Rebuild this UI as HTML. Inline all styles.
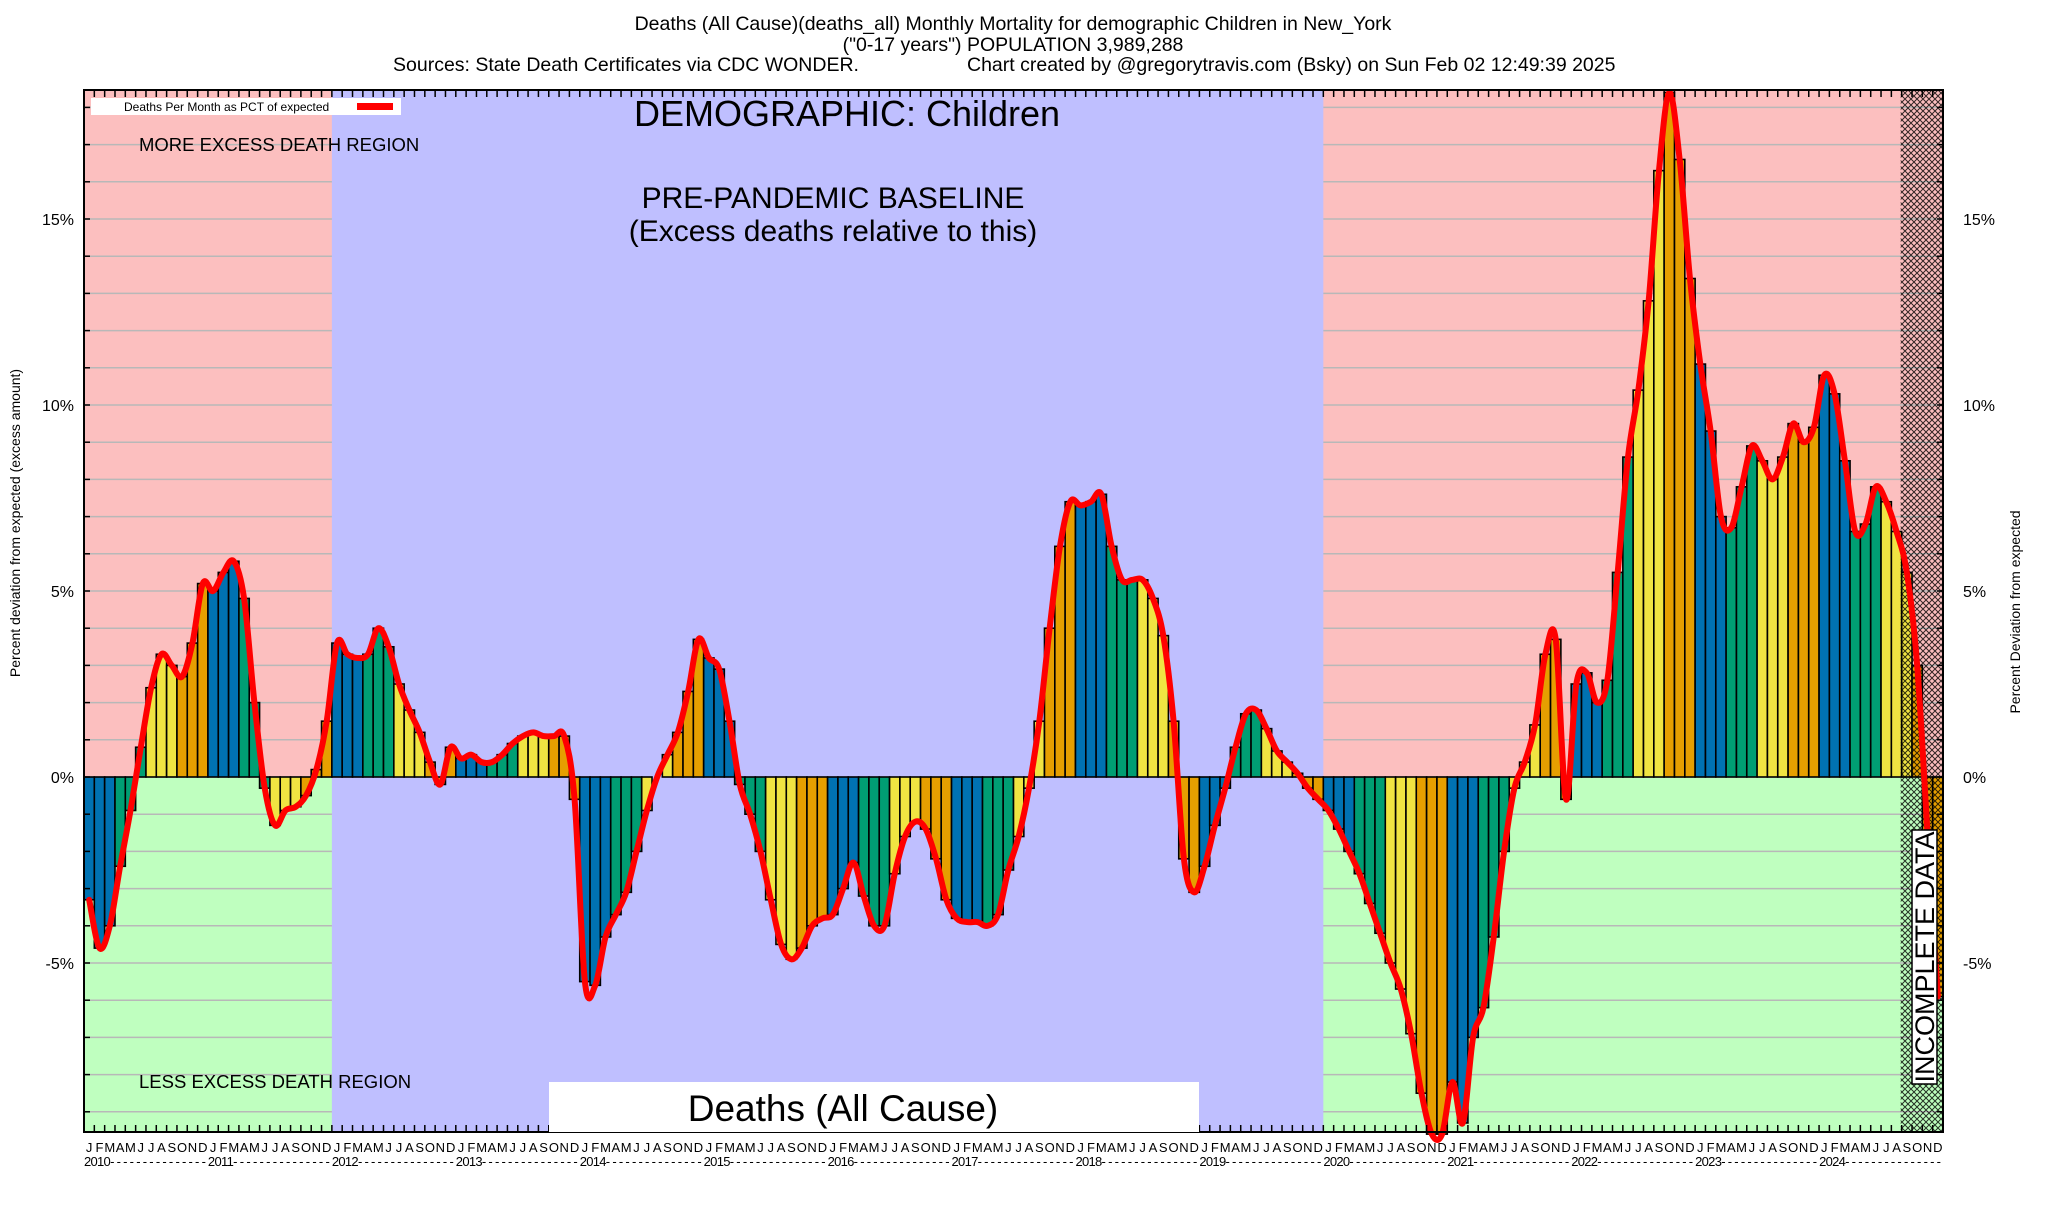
<!DOCTYPE html>
<html><head><meta charset="utf-8"><style>
body{margin:0;background:#fff;width:2048px;height:1200px;overflow:hidden;font-family:"Liberation Sans",sans-serif}
svg text{font-family:"Liberation Sans",sans-serif}
</style></head><body>
<svg id="chart" width="2048" height="1200" xmlns="http://www.w3.org/2000/svg">
<defs>
<pattern id="hatch" width="6" height="6" patternUnits="userSpaceOnUse">
<path d="M0,0 L6,6 M6,0 L0,6" stroke="#000" stroke-width="1" opacity="0.8"/>
</pattern>
</defs>
<g id="bg"></g><g id="grid"></g><g id="bars"></g><g id="hatchg"></g><g id="line"></g><g id="axes"></g><g id="labels"></g>
<text x="1013" y="30" font-size="19.5" text-anchor="middle">Deaths (All Cause)(deaths_all) Monthly Mortality for demographic Children in New_York</text>
<text x="1013" y="51" font-size="19.5" text-anchor="middle">("0-17 years") POPULATION 3,989,288</text>
<text x="393" y="71" font-size="19.5">Sources: State Death Certificates via CDC WONDER.</text>
<text x="967" y="71" font-size="19.5">Chart created by @gregorytravis.com (Bsky) on Sun Feb 02 12:49:39 2025</text>
</svg>
<script>
const months=["J","F","M","A","M","J","J","A","S","O","N","D"];
const years=[2010,2011,2012,2013,2014,2015,2016,2017,2018,2019,2020,2021,2022,2023,2024];
const tickLabels=["-5%","0%","5%","10%","15%"];
const tickValues=[-5,0,5,10,15];
const v2010=[-3.3,-4.6,-4.0,-2.4,-0.9,0.8,2.4,3.3,3.0,2.7,3.6,5.2];
const v2011=[5.0,5.5,5.8,4.8,2.0,-0.3,-1.3,-0.9,-0.8,-0.5,0.2,1.5];
const v2012=[3.6,3.3,3.2,3.3,4.0,3.5,2.5,1.8,1.2,0.4,-0.2,0.8];
const v2013=[0.5,0.6,0.4,0.4,0.6,0.9,1.1,1.2,1.1,1.1,1.1,-0.6];
const v2014=[-5.5,-5.6,-4.3,-3.7,-3.1,-2.0,-0.9,0.0,0.6,1.2,2.3,3.7];
const v2015=[3.2,2.9,1.5,-0.2,-1.0,-2.0,-3.3,-4.5,-4.9,-4.6,-4.0,-3.8];
const v2016=[-3.7,-3.0,-2.3,-3.2,-4.0,-4.0,-2.6,-1.6,-1.2,-1.4,-2.2,-3.3];
const v2017=[-3.8,-3.9,-3.9,-4.0,-3.7,-2.5,-1.6,-0.3,1.5,4.0,6.2,7.4];
const v2018=[7.3,7.4,7.6,6.2,5.3,5.3,5.3,4.8,3.8,1.5,-2.2,-3.1];
const v2019=[-2.4,-1.3,-0.3,0.8,1.7,1.8,1.3,0.7,0.4,0.1,-0.3,-0.6];
const v2020=[-0.9,-1.4,-2.0,-2.6,-3.4,-4.2,-5.0,-5.7,-6.9,-8.5,-9.6,-9.6];
const v2021=[-8.2,-9.3,-7.0,-6.2,-4.3,-2.0,-0.3,0.4,1.4,3.3,3.7,-0.6];
const v2022=[2.5,2.8,2.0,2.6,5.5,8.6,10.4,12.8,16.3,18.4,16.6,13.4];
const v2023=[11.1,9.3,7.0,6.7,7.8,8.9,8.5,8.0,8.6,9.5,9.0,9.4];
const v2024=[10.8,10.3,8.5,6.6,6.8,7.8,7.4,6.6,5.5,3.0,-1.5,-5.9];
const values=[].concat(v2010,v2011,v2012,v2013,v2014,v2015,v2016,v2017,v2018,v2019,v2020,v2021,v2022,v2023,v2024);

const L=84,R=1943,T=90,B=1132,Y0=777,PPU=37.2;
const N=values.length, slot=(R-L)/N;
const xs=i=>L+i*slot;
const ys=v=>Y0-v*PPU;
const NS="http://www.w3.org/2000/svg";
function mk(tag,attrs,parent){const e=document.createElementNS(NS,tag);for(const k in attrs)e.setAttribute(k,attrs[k]);parent.appendChild(e);return e;}
const bg=document.getElementById('bg'),grid=document.getElementById('grid'),bars=document.getElementById('bars'),line=document.getElementById('line'),axes=document.getElementById('axes'),lab=document.getElementById('labels'),hg=document.getElementById('hatchg');
let e;
e=mk('rect',{x:L,y:T,width:R-L,height:Y0-T,fill:'#fcbfbf'},bg);


e=mk('rect',{x:L,y:Y0,width:R-L,height:B-Y0,fill:'#bfffbf'},bg);


for(let p=-9;p<=18;p++){
  e=mk('line',{x1:L,x2:R,y1:ys(p),y2:ys(p),stroke:'#b8b8b8','stroke-width':1.5},grid);
  
  
}
e=mk('rect',{x:xs(24),y:T,width:xs(120)-xs(24),height:B-T,fill:'#bfbfff'},grid);


const qc=['#0072b2','#009e73','#f0e442','#e69f00'];
values.forEach((v,i)=>{
  const y=Math.max(T,ys(v));
  const b=mk('rect',{x:xs(i),y:Math.min(y,Y0),width:slot,height:Math.abs(Y0-y),fill:qc[Math.floor((i%12)/3)],stroke:'#000','stroke-width':1.6},bars);
  
  
});
e=mk('rect',{x:xs(176)-1,y:T,width:R-xs(176)+1,height:B-T,fill:'url(#hatch)'},hg);


const pts=values.map((v,i)=>[xs(i)+slot/2,Math.max(T,ys(v))]);
let d='M'+pts[0][0]+','+pts[0][1];
for(let i=0;i<pts.length-1;i++){
  const p0=pts[Math.max(0,i-1)],p1=pts[i],p2=pts[i+1],p3=pts[Math.min(pts.length-1,i+2)];
  const c1=[p1[0]+(p2[0]-p0[0])/6,p1[1]+(p2[1]-p0[1])/6],c2=[p2[0]-(p3[0]-p1[0])/6,p2[1]-(p3[1]-p1[1])/6];
  d+=' C'+c1.join(',')+' '+c2.join(',')+' '+p2.join(',');
}
e=mk('path',{d:d,fill:'none',stroke:'#ff0000','stroke-width':6,'stroke-linejoin':'round','stroke-linecap':'round'},line);


e=mk('rect',{x:L,y:T,width:R-L,height:B-T,fill:'none',stroke:'#000','stroke-width':2},axes);


for(let p=-9;p<=18;p++){
  mk('line',{x1:L,x2:L+6,y1:ys(p),y2:ys(p),stroke:'#000','stroke-width':1.5},axes);
  mk('line',{x1:R-6,x2:R,y1:ys(p),y2:ys(p),stroke:'#000','stroke-width':1.5},axes);
}
for(let i=0;i<=N;i++){
  mk('line',{x1:xs(i),x2:xs(i),y1:T,y2:T+7,stroke:'#000','stroke-width':1.5},axes);
  mk('line',{x1:xs(i),x2:xs(i),y1:B-7,y2:B,stroke:'#000','stroke-width':1.5},axes);
}
tickValues.forEach((t,k)=>{
  e=mk('text',{x:L-10,y:ys(t)+6,'font-size':16,'text-anchor':'end'},lab);
  e.textContent=tickLabels[k];
  
  
  e=mk('text',{x:R+20,y:ys(t)+6,'font-size':16},lab);
  e.textContent=tickLabels[k];
  
  
});
for(let i=0;i<N;i++){
  e=mk('text',{x:xs(i)+slot/2,y:1152,'font-size':13,'text-anchor':'middle'},lab);
  e.textContent=months[i%12];
  
  
}
years.forEach((yr,k)=>{
  e=mk('text',{x:xs(k*12),y:1166,'font-size':13,textLength:slot*12-2,lengthAdjust:'spacing'},lab);
  e.textContent=yr+'- - - - - - - - - - - - - - -';
  
  
});
</script>
<svg style="position:absolute;left:0;top:0" width="2048" height="1200" xmlns="http://www.w3.org/2000/svg">
<g>
<rect x="91" y="98" width="310" height="17" fill="#fff"/>
<text x="124" y="111" font-size="12">Deaths Per Month as PCT of expected</text>
<rect x="357" y="103" width="36" height="7" fill="#ff0000"/>
</g>
<text x="847" y="126" font-size="36" text-anchor="middle">DEMOGRAPHIC: Children</text>
<text x="833" y="208" font-size="30" text-anchor="middle">PRE-PANDEMIC BASELINE</text>
<text x="833" y="241" font-size="30" text-anchor="middle">(Excess deaths relative to this)</text>
<text x="139" y="151" font-size="18.5">MORE EXCESS DEATH REGION</text>
<text x="139" y="1088" font-size="18.5">LESS EXCESS DEATH REGION</text>
<rect x="549" y="1082" width="650" height="50" fill="#fff"/>
<text x="843" y="1121" font-size="37" text-anchor="middle">Deaths (All Cause)</text>
<g>
<rect x="1912" y="830" width="25" height="254" fill="#fff" stroke="#000" stroke-width="1.5"/>
<text x="0" y="0" font-size="27" text-anchor="middle" transform="translate(1934,957) rotate(-90)">INCOMPLETE DATA</text>
</g>
<text font-size="14" text-anchor="middle" transform="translate(20,523) rotate(-90)">Percent deviation from expected (excess amount)</text>
<text font-size="14" text-anchor="middle" transform="translate(2020,612) rotate(-90)">Percent Deviation from expected</text>
</svg>
</body></html>
